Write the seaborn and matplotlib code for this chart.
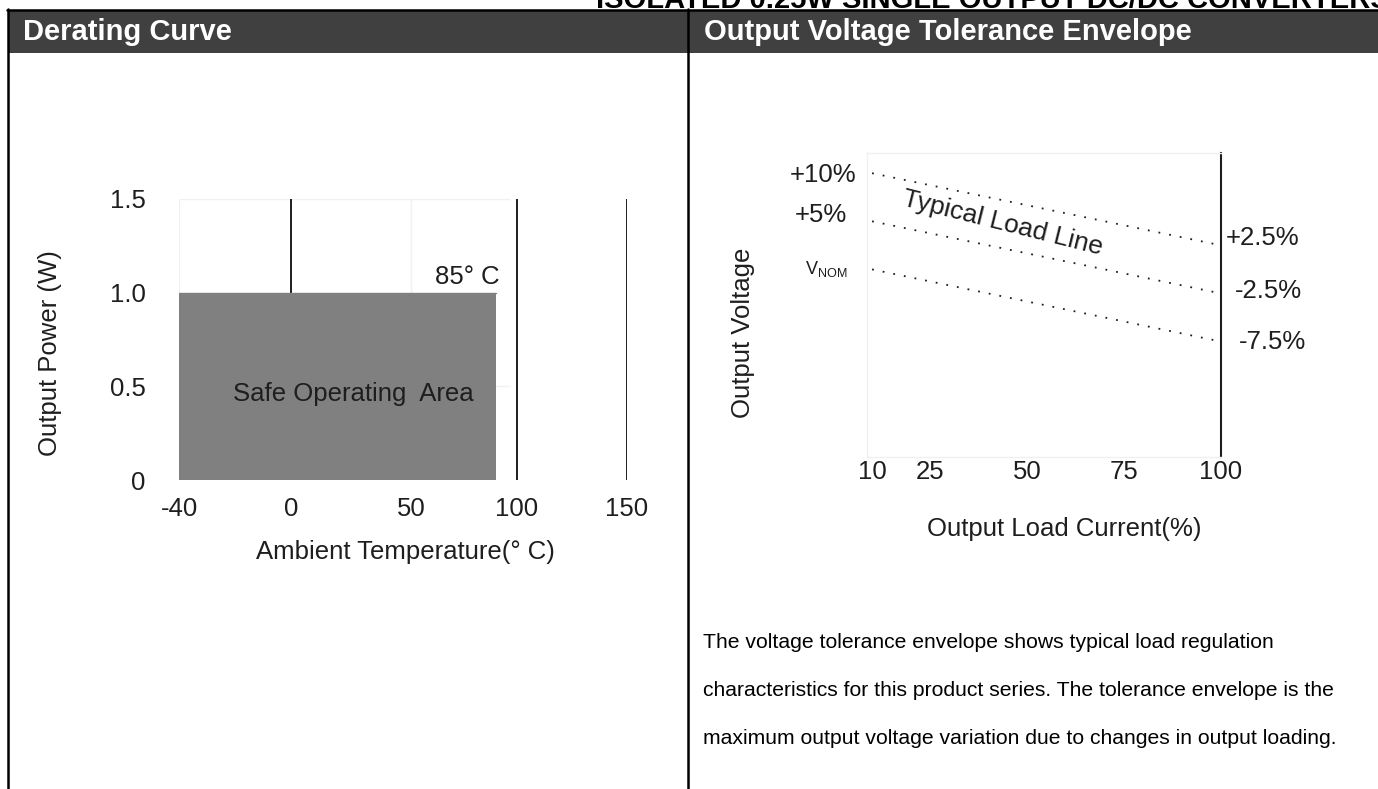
import numpy as np
import matplotlib
matplotlib.use('Agg')
import matplotlib.pyplot as plt
import seaborn as sns
from matplotlib.patches import Rectangle
from matplotlib.lines import Line2D

# Data
# Derating curve: full power from -40 to 85 C
soa_temp = [-40, 85]
soa_power = [1.0, 1.0]
temp_ticks = [-40, 0, 50, 100, 150]
power_ticks = [0, 0.5, 1.0, 1.5]
power_tick_labels = ['0', '0.5', '1.0', '1.5']
temp_marker_lines = [0, 100, 150]

# Voltage tolerance envelope (% deviation vs. % load)
load_pct = [10, 100]
upper_limit = [10.0, 2.5]
typical_line = [5.0, -2.5]
lower_limit = [0.0, -7.5]
load_ticks = [10, 25, 50, 75, 100]

paragraph = [
    "The voltage tolerance envelope shows typical load regulation",
    "characteristics for this product series. The tolerance envelope is the",
    "maximum output voltage variation due to changes in output loading.",
]

sns.set_theme(style='white')
plt.rcParams['font.family'] = ['Liberation Sans', 'DejaVu Sans']
plt.rcParams['text.color'] = '#1a1a1a'

W, H = 1378, 789
fig = plt.figure(figsize=(W / 100, H / 100), dpi=100)
fig.patch.set_facecolor('white')


def px_box(l, t, r, b):
    return [l / W, 1 - b / H, (r - l) / W, (b - t) / H]


def fx(x):
    return x / W


def fy(y):
    return 1 - y / H


CHART_FS = 18.5
INK = '#1e1e1e'

# ---------- page frame and header band ----------
fig.add_artist(Rectangle((fx(8), fy(53)), 1 - fx(8), 42 / H, transform=fig.transFigure,
                         facecolor='#404040', edgecolor='none', zorder=1))
for x0, y0, x1, y1 in [(7, 9.5, W, 9.5), (8, 9, 8, H), (688, 9, 688, H)]:
    fig.add_artist(Line2D([fx(x0), fx(x1)], [fy(y0), fy(y1)], transform=fig.transFigure,
                          color='black', lw=1.8, zorder=2))

# page title, cut by the top edge as in the scan
fig.text(fx(596), fy(7.5), 'ISOLATED 0.25W SINGLE OUTPUT DC/DC CONVERTERS',
         fontsize=21, fontweight='bold', color='black', va='baseline')
fig.text(fx(23), fy(40), 'Derating Curve', fontsize=21, fontweight='bold',
         color='white', va='baseline', zorder=3)
fig.text(fx(704), fy(40), 'Output Voltage Tolerance Envelope', fontsize=21,
         fontweight='bold', color='white', va='baseline', zorder=3)

# ---------- left: derating curve ----------
ax1 = fig.add_axes(px_box(179, 199, 627, 480))
# the original drawing is not evenly spaced; follow its axis
knot_t = [-40, 0, 85, 100, 150]
knot_p = [0, 112, 316.7, 337.7, 448]
fwd = lambda v: np.interp(v, knot_t, knot_p)
inv = lambda v: np.interp(v, knot_p, knot_t)
ax1.set_xscale('function', functions=(fwd, inv))
ax1.set_xlim(-40, 150)
ax1.set_ylim(0, 1.5)

ax1.vlines([-40, 50], 0, 1.5, color='#f1f1f1', lw=1, zorder=0)
ax1.hlines([0.5, 1.5], -40, 95, color='#f1f1f1', lw=1, zorder=0)
ax1.vlines(temp_marker_lines, -0.037, 1.5, color=INK, lw=1.4, zorder=1)
ax1.fill_between(soa_temp, 0, soa_power, color='#808080', lw=0, zorder=2)
sns.lineplot(x=soa_temp, y=soa_power, ax=ax1, color='#808080', lw=1, zorder=2)

ax1.text(26, 0.46, 'Safe Operating  Area', fontsize=CHART_FS, ha='center', va='center',
         color=INK, zorder=3)
ax1.annotate('85° C', xy=(85, 1.0), xytext=(3, 6), textcoords='offset points',
             ha='right', va='baseline', fontsize=CHART_FS, color=INK)

ax1.set_xticks(temp_ticks)
ax1.set_xticklabels([str(t) for t in temp_ticks])
ax1.set_yticks(power_ticks)
ax1.set_yticklabels(power_tick_labels)
ax1.tick_params(axis='x', length=0, pad=12, labelsize=CHART_FS, labelcolor=INK)
ax1.tick_params(axis='y', length=0, pad=24, labelsize=CHART_FS, labelcolor=INK)
ax1.xaxis.set_minor_locator(matplotlib.ticker.NullLocator())
for s in ax1.spines.values():
    s.set_visible(False)
ax1.set_facecolor('none')

fig.text(fx(405), fy(552), 'Ambient Temperature(° C)', fontsize=CHART_FS,
         ha='center', va='center', color=INK)
fig.text(fx(50), fy(353), 'Output Power (W)', fontsize=CHART_FS, rotation=90,
         ha='center', va='center', color=INK)

# ---------- right: output voltage tolerance envelope ----------
ax2 = fig.add_axes(px_box(867, 153, 1221, 457))
ax2.set_xlim(8.7, 100)
ax2.set_ylim(-19.5, 12.1)

dots = (0, (1, 5))
for vals in (upper_limit, typical_line, lower_limit):
    sns.lineplot(x=load_pct, y=vals, ax=ax2, color=INK, lw=1.3, linestyle=dots)

left_labels = [('+10%', upper_limit[0], (-11.5, -1.4)),
               ('+5%', typical_line[0], (-18, 4.5)),
               (r'$\mathregular{V_{NOM}}$', lower_limit[0], (-18, 0))]
for txt, v, off in left_labels:
    ax2.annotate(txt, xy=(load_pct[0], v), xytext=off, textcoords='offset points',
                 ha='right', va='center', fontsize=CHART_FS if '%' in txt else 13,
                 color=INK, annotation_clip=False)

right_labels = [('+2.5%', upper_limit[1], (3.6, 5)),
                ('-2.5%', typical_line[1], (10, 1.5)),
                ('-7.5%', lower_limit[1], (13, 0))]
for txt, v, off in right_labels:
    ax2.annotate(txt, xy=(load_pct[1], v), xytext=off, textcoords='offset points',
                 ha='left', va='center', fontsize=CHART_FS, color=INK,
                 annotation_clip=False)

ax2.text(43.8, 4.8, 'Typical Load Line', fontsize=19, rotation=-14,
         ha='center', va='center', color=INK, rotation_mode='anchor')

ax2.set_xticks(load_ticks)
ax2.set_xticklabels([str(t) for t in load_ticks])
ax2.set_xticks([50], minor=True)
ax2.set_yticks([])
ax2.tick_params(axis='x', which='major', length=0, pad=2, labelsize=CHART_FS,
                labelcolor=INK)
ax2.tick_params(axis='x', which='minor', direction='in', length=6, width=1.2,
                color=INK, bottom=True)
for name, s in ax2.spines.items():
    if name == 'right':
        s.set_color(INK)
        s.set_linewidth(1.5)
    else:
        s.set_color('#f0f0f0')
        s.set_linewidth(1)
ax2.set_facecolor('none')

fig.text(fx(743), fy(333), 'Output Voltage', fontsize=CHART_FS, rotation=90,
         ha='center', va='center', color=INK)
fig.text(fx(1064), fy(529), 'Output Load Current(%)', fontsize=CHART_FS,
         ha='center', va='center', color=INK)

for i, line in enumerate(paragraph):
    fig.text(fx(703), fy(643 + 47.5 * i), line, fontsize=15.2, va='center', color='black')

fig.savefig('out.png', dpi=100)
